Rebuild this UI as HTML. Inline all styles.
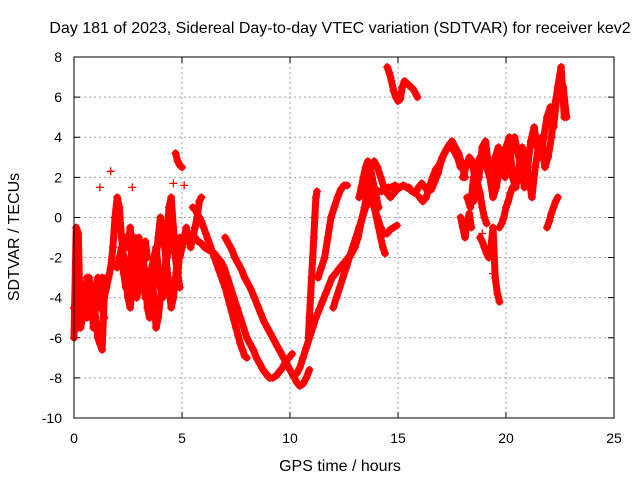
<!DOCTYPE html>
<html><head><meta charset="utf-8"><style>
body{margin:0;background:#fff;}
svg{display:block;font-family:"Liberation Sans",sans-serif;}
</style></head><body>
<svg id="chart" width="640" height="480">
<rect width="640" height="480" fill="#fff"/>
<text x="340" y="33" font-size="16" text-anchor="middle">Day 181 of 2023, Sidereal Day-to-day VTEC variation (SDTVAR) for receiver kev2</text>
<text x="340" y="471" font-size="16" text-anchor="middle">GPS time / hours</text>
<text x="0" y="0" font-size="16" text-anchor="middle" transform="translate(19,237) rotate(-90)">SDTVAR / TECUs</text>
<g id="grid"></g>
<g id="ticks"></g>
<g id="marks"></g>
<rect x="74" y="57" width="540" height="361" fill="none" stroke="#000" stroke-width="1"/>
</svg>
<script>
const xTicks=[0,5,10,15,20,25];
const yTicks=[-10,-8,-6,-4,-2,0,2,4,6,8];
// each track: start time (h), step (h), values (TECU)
const trackStarts=[0,0,1.5,2.4,2.4,4.7,4.9,5.5,5.6,7,10.3,10.85,11.3,12,13.6,13.9,13.2,14.5,15.5,16,18,18.2,17.9,18.8,19.7,21.9,18.5,0.3,2.0,3.5];
const trackSteps=[0.1,0.1,0.1,0.1,0.1,0.1,0.1,0.1,0.15,0.15,0.15,0.05,0.15,0.15,0.1,0.15,0.1,0.1,0.15,0.15,0.15,0.15,0.1,0.1,0.1,0.1,0.1,0.1,0.1,0.1];
const trackValues=[
[-4.5,-5,-5.5,-4,-3.5,-4.5,-5,-3,-4,-5.5,-3.5,-4,-4.5,-3,-4,-3.5],
[-6,-0.5,-0.8,-5.5,-5,-4,-3,-4.5,-3.5,-3.8,-5,-6,-6.3,-6.6,-4,-3],
[-3.5,-3,-2.5,-1.5,0,1,0.5,-1,-2,-3,-4,-3.5,-2],
[-1,-1.5,-0.5,-2,-3,-4,-3.5,-2.5,-2,-3,-4.5,-5,-4,-3,-2,-1,0,-0.5,-1.5,-2.5,-3.5,-4.5,-4,-3,-2,-1],
[-3,-4,-4.5,-3.5,-2,-1.5,-1,-2,-3,-4,-3.5,-3,-2.5,-4,-5.5,-5,-4,-3.5,-3,-1,0.5,1,-0.5,-2,-3,-1.5],
[3.2,2.8,2.6,2.5],
[-2,-1.5,-1,-0.5,-1,-1.5,-1,-0.5,0,0.8,1],
[0.5,0.4,0.2,0,-0.2,-0.5,-0.8,-1.1,-1.4,-1.7,-2,-2.3,-2.6,-2.9,-3.2,-3.5,-3.9,-4.3,-4.7,-5.1,-5.5,-5.9,-6.3,-6.6,-6.9,-7],
[-1,-1.2,-1.3,-1.5,-1.6,-1.7,-1.8,-2,-2.2,-2.5,-3,-3.5,-4,-4.5,-5,-5.5,-6,-6.3,-6.6,-7,-7.3,-7.6,-7.8,-8,-8,-7.9,-7.7,-7.5,-7.2,-7,-6.8],
[-1,-1.3,-1.6,-2,-2.3,-2.6,-3,-3.3,-3.6,-4,-4.4,-4.8,-5.2,-5.5,-5.8,-6.1,-6.4,-6.7,-7,-7.3,-7.6,-7.9,-8.2,-8.4,-8.3,-8,-7.6],
[-7.8,-7.5,-7,-6.5,-6,-5.5,-5,-4.6,-4.2,-3.8,-3.4,-3,-2.8,-2.6,-2.4,-2.2,-2,-1.8,-1.5,-1,-0.2,0.5,1.5,2.5,2.8,2.5,2,1.5,1.2,1,1.2,1.4,1.5,1.6,1.5,1.4],
[-6,-5,-4,-3,-2,-1,0,1,1.3],
[-3,-2.5,-2,-1,0,0.5,1,1.4,1.6,1.6],
[-4.5,-4,-3.5,-3,-2.5,-2,-1.5,-1,-0.5,0,0.5,0.8,1,1.2,1.3,1.3,1.4,1.5,1.5,1.6,1.5],
[2,1.5,1,0.5,0,-0.5,-1,-1.5,-1.8],
[0.5,0,-0.5,-0.8,-0.8,-0.6,-0.5,-0.4],
[1,1.5,2,2.5,2.8,2.6,2,1.5,1,0.5],
[7.5,7.2,6.8,6.3,6,5.8,5.9,6.5,6.8,6.7,6.6,6.5,6.4,6.2,6],
[1.5,1.3,1.2,1.5,1.7,1.5,1.3,1.4,1.8,2.2,2.8,3.2,3.5,3.6,3.3,3,2.5],
[1,0.8,1,1.5,2,2.4,2.6,3,3.3,3.6,3.8,3.5,3.2,2.7,2],
[2,2.5,3,2.8,1.5,2,3.5,3.8,2.5,1.8,3,3.5,2.5,2,3,3.5,4,3.2,2.5,1.5,2.5,3.8,4.5,3.5,3,4,5,5.5,4.5,6,7,6.5,5],
[1,0.5,2,2.5,3,3.2,2.5,2,1,1.5,2.5,3,3.5,4,2,1.5,2.5,3.5,3,2,1,2.5,3.5,4,2.5,3,4,5.5,6.5,7.5,5],
[0,-0.5,-1,-0.3,0.2,-0.5],
[-1,-1.2,-1.5,-1.8,-2,-1.5,-0.5,-3,-3.8,-4.2],
[-0.5,-0.3,0,0.5,0.8,1.2,1.5],
[-0.5,-0.2,0.2,0.5,0.8,1],
[0.8,1.3,1.6,1.2,0.5,0,-0.3],
[-4,-4.5,-3.8,-3.2,-4,-4.8,-4.2,-3.5,-3,-3.8,-4.5,-5],
[-2.5,-2,-1.5,-2.8,-3.5,-3,-2.2,-1.5,-1,-2,-3,-2.5,-1.8,-1.2,-2],
[-3,-2.5,-2,-1.5,-2.5,-3.5,-4,-3,-2,-1.5,-0.8,-1.2,-2,-2.8,-3.5]
];
const outlierTimes=[1.2,1.7,2.7,4.6,5.1,18.9,19.4,20.7];
const outlierValues=[1.5,2.3,1.5,1.7,1.6,-0.8,-2.8,2];

const NS='http://www.w3.org/2000/svg';
function xs(t){return 74+t*540/25;}
function ys(v){return 418-(v+10)*361/18;}
const grid=document.getElementById('grid'),ticks=document.getElementById('ticks'),marks=document.getElementById('marks');
xTicks.forEach(t=>{
  const x=xs(t);
  if(t>0&&t<25){const g=document.createElementNS(NS,'line');
  g.setAttribute('x1',x);g.setAttribute('x2',x);g.setAttribute('y1',57);g.setAttribute('y2',418);
  g.setAttribute('stroke','#a0a0a0');g.setAttribute('stroke-dasharray','2,3');
  
  
  grid.appendChild(g);}
  const tk=document.createElementNS(NS,'path');
  tk.setAttribute('d',`M${x},418v-6M${x},57v6`);tk.setAttribute('stroke','#000');
  
  
  ticks.appendChild(tk);
  const lb=document.createElementNS(NS,'text');
  lb.setAttribute('x',x);lb.setAttribute('y',443);lb.setAttribute('font-size','14');lb.setAttribute('text-anchor','middle');
  lb.textContent=t;
  
  
  ticks.appendChild(lb);
});
yTicks.forEach(v=>{
  const y=ys(v);
  if(v>-10&&v<8){const g=document.createElementNS(NS,'line');
  g.setAttribute('x1',74);g.setAttribute('x2',614);g.setAttribute('y1',y);g.setAttribute('y2',y);
  g.setAttribute('stroke','#a0a0a0');g.setAttribute('stroke-dasharray','2,3');
  
  
  grid.appendChild(g);}
  const tk=document.createElementNS(NS,'path');
  tk.setAttribute('d',`M74,${y}h6M614,${y}h-6`);tk.setAttribute('stroke','#000');
  
  
  ticks.appendChild(tk);
  const lb=document.createElementNS(NS,'text');
  lb.setAttribute('x',62);lb.setAttribute('y',y+5);lb.setAttribute('font-size','14');lb.setAttribute('text-anchor','end');
  lb.textContent=v;
  
  
  ticks.appendChild(lb);
});
let d='';
function plus(t,v){const x=xs(t),y=ys(v);d+=`M${(x-4).toFixed(1)},${y.toFixed(1)}h8M${x.toFixed(1)},${(y-4).toFixed(1)}v8`;}
trackValues.forEach((vals,k)=>{
  const pts=vals.map((v,i)=>xs(trackStarts[k]+i*trackSteps[k]).toFixed(1)+','+ys(v).toFixed(1)).join(' ');
  const pl=document.createElementNS(NS,'polyline');
  pl.setAttribute('points',pts);pl.setAttribute('fill','none');pl.setAttribute('stroke','#ff0000');
  pl.setAttribute('stroke-width','7');pl.setAttribute('stroke-linejoin','round');pl.setAttribute('stroke-linecap','round');
  
  
  marks.appendChild(pl);
  vals.forEach((v,i)=>plus(trackStarts[k]+i*trackSteps[k],v));
});
outlierTimes.forEach((t,i)=>plus(t,outlierValues[i]));
const p=document.createElementNS(NS,'path');
p.setAttribute('d',d);p.setAttribute('stroke','#ff0000');p.setAttribute('stroke-width','1.3');p.setAttribute('fill','none');


marks.appendChild(p);
</script>
</body></html>
